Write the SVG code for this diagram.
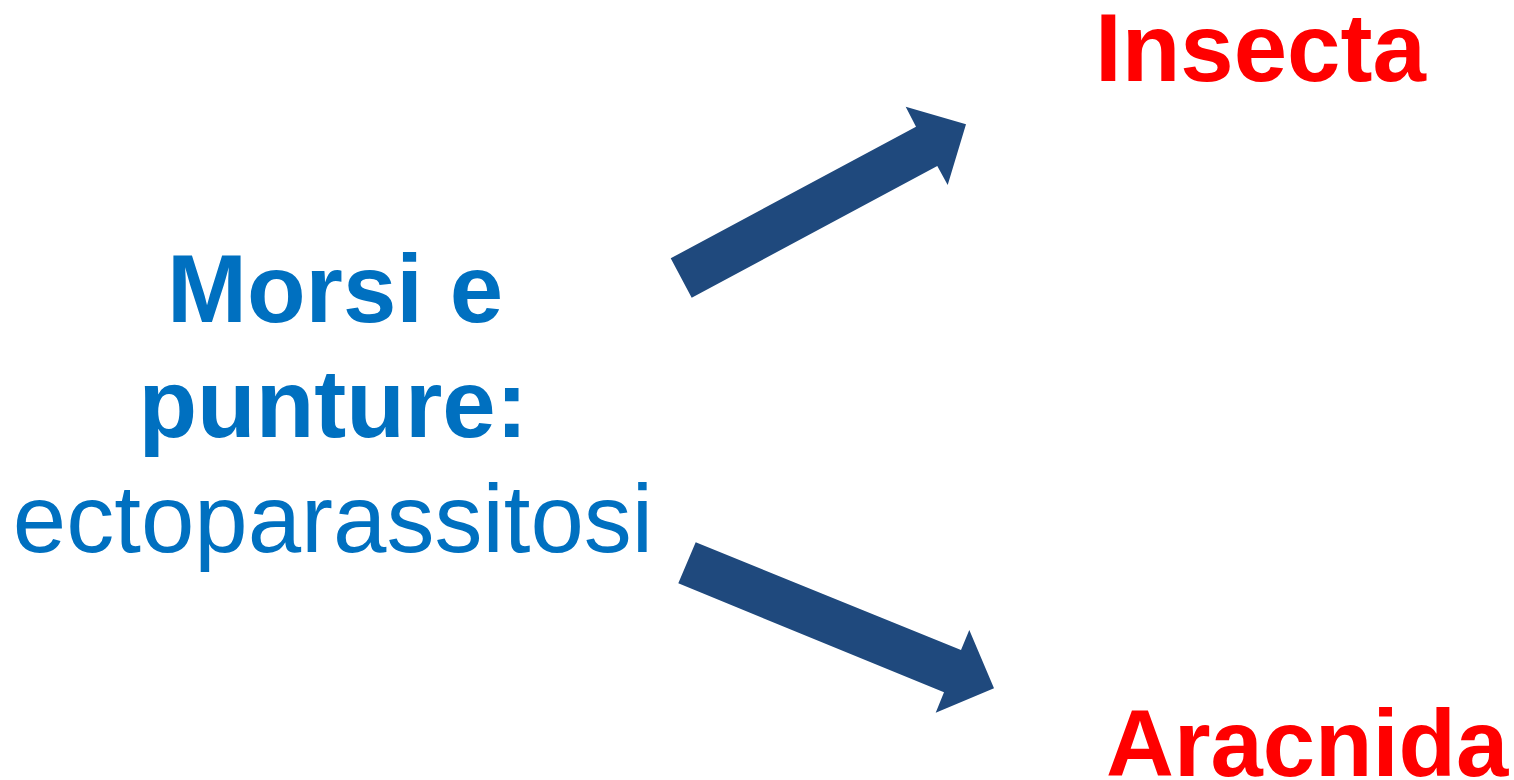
<svg xmlns="http://www.w3.org/2000/svg" width="1514" height="780" viewBox="0 0 1514 780">
<style>
.t{font-family:"Liberation Sans",Arial,sans-serif;font-size:96px}
.b{font-weight:bold}
.blue{fill:#0070C0}
.red{fill:#FF0000;font-weight:bold}
.arr{fill:#1F497D}
</style>
<rect width="1514" height="780" fill="#FFFFFF"/>
<g id="source">
<text class="t b blue" x="335" y="322" text-anchor="middle">Morsi e</text>
<text class="t b blue" x="333" y="437" text-anchor="middle">punture:</text>
<text class="t blue" x="333" y="552" text-anchor="middle">ectoparassitosi</text>
</g>
<g id="insecta">
<text class="t red" x="1095" y="81">Insecta</text>
</g>
<g id="aracnida">
<text class="t red" x="1106" y="776" style="font-size:94px">Aracnida</text>
</g>
<g id="connectors">
<polygon class="arr" points="670.7,258.3 916,126.7 905.7,106.7 966,124.3 947.7,185 937.3,166 691.7,297.7"/>
<polygon class="arr" points="695.7,542.3 961,650 969.3,630 994,688.3 935.7,712.7 944,692.3 678.3,583.3"/>
</g>
</svg>
